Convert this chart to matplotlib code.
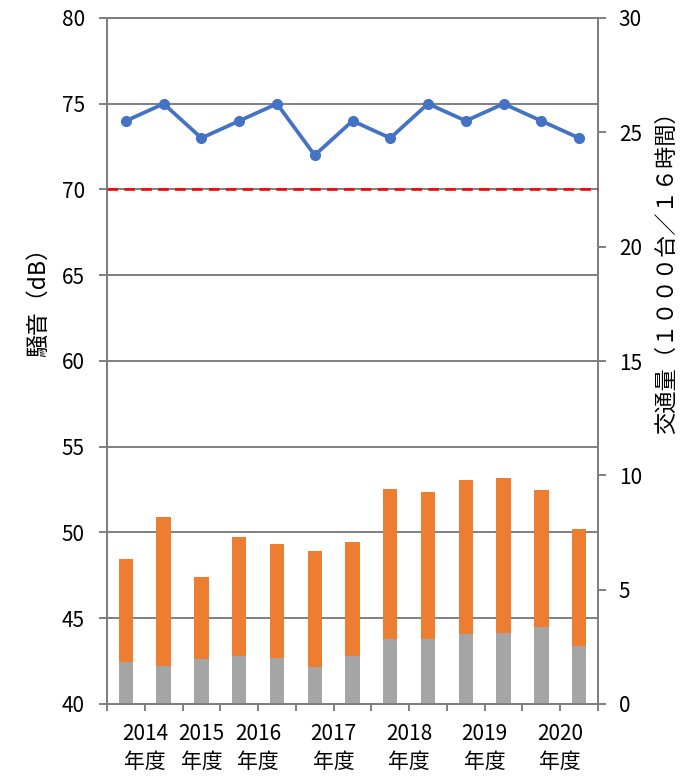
import numpy as np
import matplotlib
matplotlib.use("Agg")
import matplotlib.pyplot as plt

plt.rcParams['font.family'] = ['Noto Sans CJK JP', 'DejaVu Sans']

# noise level (dB), one value per survey
noise = [74, 75, 73, 74, 75, 72, 74, 73, 75, 74, 75, 74, 73]
# traffic volume (1000 vehicles / 16h): large vehicles (gray) and total
traffic_large = [1.85, 1.66, 1.98, 2.11, 2.01, 1.63, 2.11, 2.83, 2.83, 3.05, 3.10, 3.35, 2.55]
traffic_total = [6.33, 8.19, 5.54, 7.32, 6.98, 6.69, 7.07, 9.40, 9.28, 9.79, 9.90, 9.36, 7.65]
traffic_small = [t - l for t, l in zip(traffic_total, traffic_large)]

limit_db = 70
year_labels = ["2014\n年度", "2015\n年度", "2016\n年度", "2017\n年度",
               "2018\n年度", "2019\n年度", "2020\n年度"]
year_pos = [0.5, 2, 3.5, 5.5, 7.5, 9.5, 11.5]

x = np.arange(len(noise))
grid_c = "#7f7f7f"
fs = 15

fig = plt.figure(figsize=(6.96, 7.79), dpi=100)
ax = fig.add_axes([107/696, 75/779, 491/696, 686/779])

# left axis (dB) with grid
ax.set_ylim(40, 80)
ax.set_yticks(range(40, 81, 5))
ax.set_xlim(-0.5, len(noise) - 0.5)
ax.grid(axis="y", color=grid_c, linewidth=1.4)
ax.set_axisbelow(True)
ax.xaxis.remove_overlapping_locs = False
ax.set_xticks(np.arange(-0.5, len(noise), 1))
ax.set_xticklabels([])
ax.set_xticks(year_pos, year_labels, minor=True)
ax.tick_params(axis="x", which="major", direction="out", length=5, color=grid_c, width=1.4)
ax.tick_params(axis="x", which="minor", length=0, pad=14, labelsize=fs)
ax.tick_params(axis="y", direction="out", length=6, color=grid_c, width=1.4, pad=10, labelsize=fs)
for lbl in ax.get_xticklabels(minor=True):
    lbl.set_linespacing(1.3)
ax.set_ylabel("騒音（dB）", fontsize=16.5)
ax.yaxis.set_label_coords(-0.116, 0.594)

# right axis (traffic) with bars
ax2 = ax.twinx()
ax2.set_ylim(0, 30)
ax2.set_yticks(range(0, 31, 5))
ax2.bar(x, traffic_large, width=0.38, color="#a5a5a5", zorder=2)
ax2.bar(x, traffic_small, bottom=traffic_large, width=0.38, color="#ed7d31", zorder=2)
ax2.tick_params(axis="y", direction="out", length=6, color=grid_c, width=1.4, pad=9, labelsize=fs)
ax2.set_ylabel("交通量（１０００台／１６時間）", fontsize=16)
ax2.yaxis.set_label_coords(1.116, 0.637)

for a in (ax, ax2):
    for s in a.spines.values():
        s.set_color(grid_c)
        s.set_linewidth(1.4)

# noise line on top
ax3 = ax.twinx()
ax3.set_ylim(40, 80)
ax3.axis("off")
ax3.axhline(limit_db, color="#ff0000", linestyle=(0, (4, 2.4)), linewidth=1.9)
ax3.plot(x, noise, "-o", color="#4472c4", linewidth=2.7, markersize=7)

fig.savefig("out.png", dpi=100)
